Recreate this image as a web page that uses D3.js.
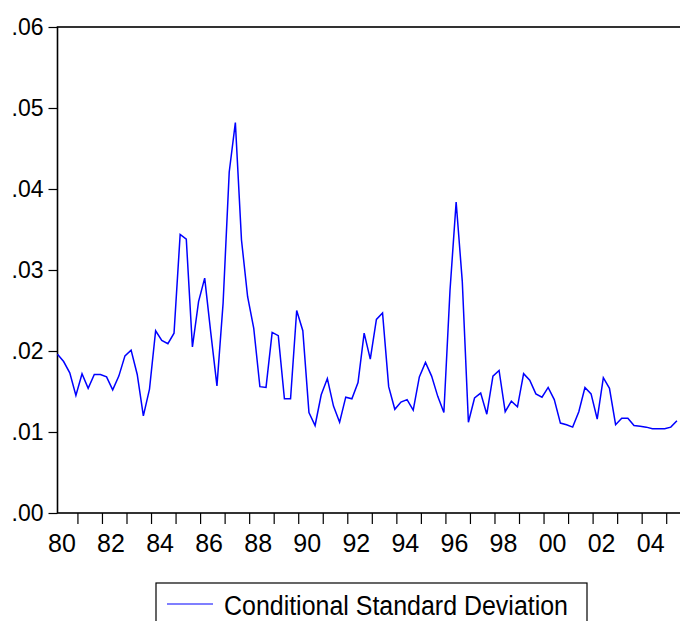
<!DOCTYPE html>
<html>
<head>
<meta charset="utf-8">
<script src="https://cdn.jsdelivr.net/npm/d3@7"></script>
<style>
  body { margin: 0; background: #fff; }
  svg text { font-family: "Liberation Sans", Arial, sans-serif; fill: #000; }
</style>
</head>
<body>
<div id="chart"></div>
<script>
// quarterly observations, 1980Q1 .. 2005Q2
var startYear = 1980;
var condSD = [
  0.0196, 0.0187, 0.0173, 0.0145, 0.0172, 0.0154, 0.0171, 0.0171, 0.0168, 0.0152,
  0.0169, 0.0194, 0.0201, 0.0171, 0.0120, 0.0153, 0.0225, 0.0213, 0.0209, 0.0222,
  0.0344, 0.0338, 0.0205, 0.0261, 0.0290, 0.0222, 0.0157, 0.0259, 0.0421, 0.0482,
  0.0337, 0.0267, 0.0228, 0.0156, 0.0155, 0.0223, 0.0219, 0.0141, 0.0141, 0.0250,
  0.0225, 0.0124, 0.0108, 0.0146, 0.0166, 0.0132, 0.0112, 0.0143, 0.0141, 0.0161,
  0.0222, 0.0190, 0.0239, 0.0247, 0.0156, 0.0128, 0.0137, 0.0140, 0.0127, 0.0168,
  0.0186, 0.0169, 0.0144, 0.0124, 0.0275, 0.0384, 0.0286, 0.0112, 0.0142, 0.0148,
  0.0122, 0.0169, 0.0176, 0.0125, 0.0138, 0.0131, 0.0172, 0.0164, 0.0147, 0.0143,
  0.0155, 0.0140, 0.0111, 0.0109, 0.0106, 0.0125, 0.0155, 0.0147, 0.0116, 0.0167,
  0.0154, 0.0109, 0.0117, 0.0117, 0.0108, 0.0107, 0.0106, 0.0104, 0.0104, 0.0104,
  0.0106, 0.0114
];
var tickYears = d3.range(1981, 2006);
var labelYears = d3.range(1980, 2005, 2);
var yTicks = [0, 0.01, 0.02, 0.03, 0.04, 0.05, 0.06];
var seriesName = "Conditional Standard Deviation";

var width = 680, height = 621;
var plotLeft = 57.5, plotRight = 680, plotTop = 27, plotBottom = 513;

var svg = d3.select('#chart').append('svg')
  .attr('width', width).attr('height', height);

var x = d3.scaleLinear().domain([0, 101.5]).range([plotLeft, plotRight]);
var y = d3.scaleLinear().domain([0, 0.06]).range([plotBottom, plotTop]);

// frame
svg.append('rect')
  .attr('x', plotLeft).attr('y', plotTop)
  .attr('width', plotRight - plotLeft + 5).attr('height', plotBottom - plotTop)
  .attr('fill', 'none').attr('stroke', '#000').attr('stroke-width', 1.6);

// y axis
var yAxis = d3.axisLeft(y).tickValues(yTicks)
  .tickSize(9).tickPadding(5)
  .tickFormat(function (d) { return d3.format('.2f')(d).replace(/^0/, ''); });
var gy = svg.append('g').attr('transform', 'translate(' + plotLeft + ',0)').call(yAxis);
gy.select('.domain').remove();
gy.selectAll('line').attr('stroke', '#000').attr('stroke-width', 1.2);
gy.selectAll('text').attr('font-size', 23).style('font-family', '"Liberation Sans", Arial, sans-serif');

// x axis: ticks at year boundaries, labels every two years
var xAxis = d3.axisBottom(x)
  .tickValues(tickYears.map(function (yr) { return (yr - startYear) * 4 - 0.75; }))
  .tickSize(11).tickFormat('');
var gx = svg.append('g').attr('transform', 'translate(0,' + plotBottom + ')').call(xAxis);
gx.select('.domain').remove();
gx.selectAll('line').attr('stroke', '#000').attr('stroke-width', 1.2);

svg.append('g').selectAll('text')
  .data(labelYears)
  .enter().append('text')
  .attr('x', function (d) { return x((d - startYear) * 4 + 0.72); })
  .attr('y', 552)
  .attr('text-anchor', 'middle')
  .attr('font-size', 25)
  .text(function (d) { return String(d).slice(2); });

// series line
var line = d3.line()
  .x(function (d, i) { return x(i); })
  .y(function (d) { return y(d); });

svg.append('path')
  .datum(condSD)
  .attr('d', line)
  .attr('fill', 'none')
  .attr('stroke', '#0000ff')
  .attr('stroke-width', 1.5);

// legend
var lg = svg.append('g');
lg.append('rect')
  .attr('x', 156).attr('y', 583)
  .attr('width', 431).attr('height', 50)
  .attr('fill', '#fff').attr('stroke', '#000').attr('stroke-width', 1.2);
lg.append('line')
  .attr('x1', 167).attr('x2', 213).attr('y1', 604).attr('y2', 604)
  .attr('stroke', '#0000ff').attr('stroke-width', 1.2);
lg.append('text')
  .attr('x', 224).attr('y', 615)
  .attr('font-size', 27)
  .attr('textLength', 344).attr('lengthAdjust', 'spacingAndGlyphs')
  .text(seriesName);
</script>
</body>
</html>
